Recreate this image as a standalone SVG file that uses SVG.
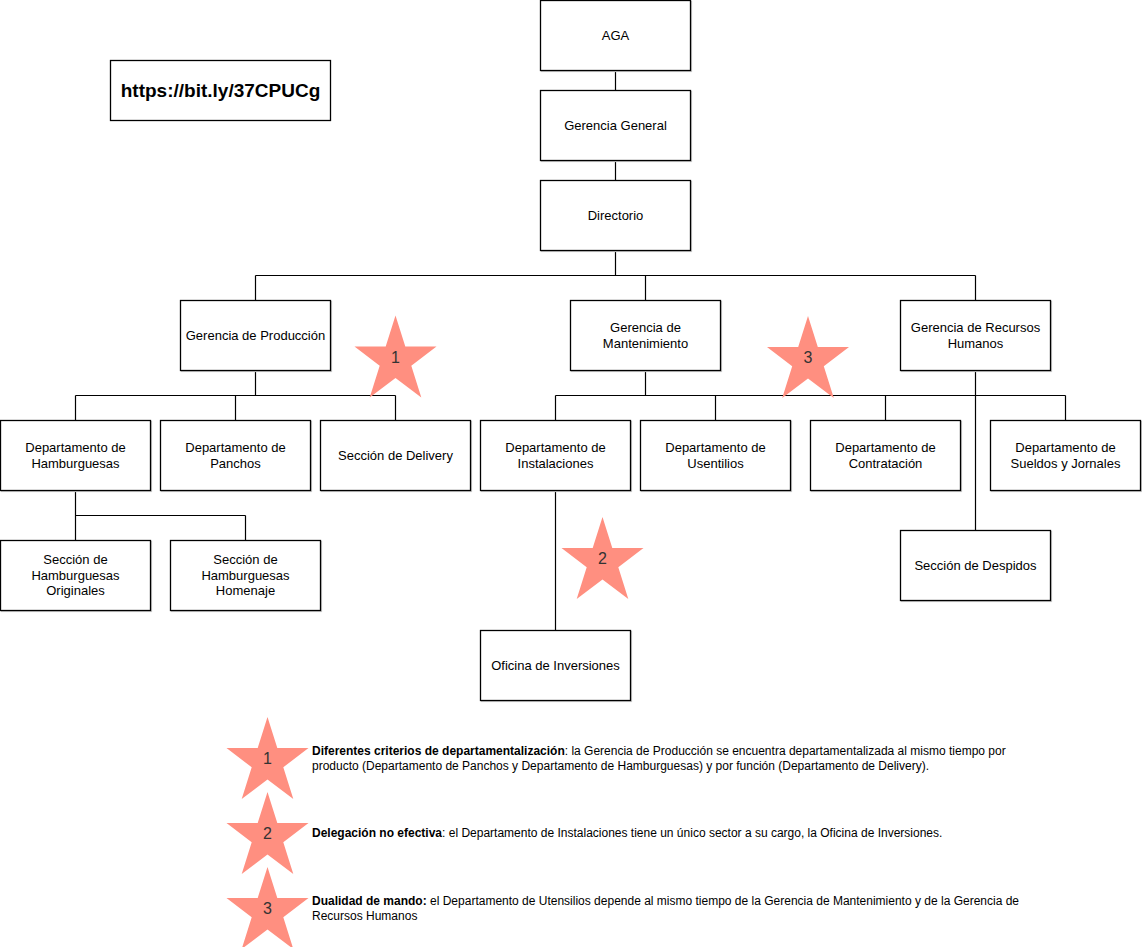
<svg xmlns="http://www.w3.org/2000/svg" xmlns:xlink="http://www.w3.org/1999/xlink" width="1142" height="947" viewBox="0 0 1142 947">
<style>
.box{fill:#fff;stroke:#000;stroke-width:1.3}
.sh{fill:none;stroke:#c8c8c8;stroke-width:1.2}
.t{font-family:"Liberation Sans",Arial,sans-serif;font-size:13px;fill:#000;text-anchor:middle}
.c{fill:none;stroke:#000;stroke-width:1.2}
.star{fill:#ff8f80}
.sn{font-family:"Liberation Sans",Arial,sans-serif;font-size:16px;fill:#333;text-anchor:middle}
.lg{font-family:"Liberation Sans",Arial,sans-serif;font-size:12px;fill:#000}
</style>
<defs>
<polygon id="starShape" class="star" points="0,0 9.8,31 41,31 15.8,50.3 25.8,82 0,62.5 -25.8,82 -15.8,50.3 -41,31 -9.8,31"/>
</defs>
<rect width="1142" height="947" fill="#fff"/>
<g id="connectors">
<path class="c" d="M615.5 70.5V90.5M615.5 160.5V180.5M615.5 250.5V275.5M255.5 275.5H975.5M255.5 275.5V300.5M645.5 275.5V300.5M975.5 275.5V300.5"/>
<path class="c" d="M255.5 370.5V395.5M75.5 395.5H395.5M75.5 395.5V420.5M235.5 395.5V420.5M395.5 395.5V420.5"/>
<path class="c" d="M645.5 370.5V395.5M555.5 395.5H1065.5M555.5 395.5V420.5M715.5 395.5V420.5M885.5 395.5V420.5M1065.5 395.5V420.5M975.5 370.5V530.5"/>
<path class="c" d="M75.5 490.5V515.5M75.5 515.5H245.5M75.5 515.5V540.5M245.5 515.5V540.5M555.5 490.5V630.5"/>
</g>
<g id="url"><rect class="box" x="110.5" y="60.5" width="220" height="60"/><text x="220.5" y="96.5" font-family="Liberation Sans,Arial,sans-serif" font-size="19px" font-weight="bold" text-anchor="middle">https://bit.ly/37CPUCg</text></g>
<g id="aga"><rect class="sh" x="541.5" y="1.5" width="150" height="70"/><rect class="box" x="540.5" y="0.5" width="150" height="70"/><text class="t" x="615.5" y="40">AGA</text></g>
<g id="gerencia-general"><rect class="sh" x="541.5" y="91.5" width="150" height="70"/><rect class="box" x="540.5" y="90.5" width="150" height="70"/><text class="t" x="615.5" y="130">Gerencia General</text></g>
<g id="directorio"><rect class="sh" x="541.5" y="181.5" width="150" height="70"/><rect class="box" x="540.5" y="180.5" width="150" height="70"/><text class="t" x="615.5" y="220">Directorio</text></g>
<g id="g-produccion"><rect class="sh" x="181.5" y="301.5" width="150" height="70"/><rect class="box" x="180.5" y="300.5" width="150" height="70"/><text class="t" x="255.5" y="340">Gerencia de Producción</text></g>
<g id="g-mantenimiento"><rect class="sh" x="571.5" y="301.5" width="150" height="70"/><rect class="box" x="570.5" y="300.5" width="150" height="70"/><text class="t" x="645.5" y="332">Gerencia de</text><text class="t" x="645.5" y="348">Mantenimiento</text></g>
<g id="g-rrhh"><rect class="sh" x="901.5" y="301.5" width="150" height="70"/><rect class="box" x="900.5" y="300.5" width="150" height="70"/><text class="t" x="975.5" y="332">Gerencia de Recursos</text><text class="t" x="975.5" y="348">Humanos</text></g>
<g id="d-hamburguesas"><rect class="sh" x="1.5" y="421.5" width="150" height="70"/><rect class="box" x="0.5" y="420.5" width="150" height="70"/><text class="t" x="75.5" y="452">Departamento de</text><text class="t" x="75.5" y="468">Hamburguesas</text></g>
<g id="d-panchos"><rect class="sh" x="161.5" y="421.5" width="150" height="70"/><rect class="box" x="160.5" y="420.5" width="150" height="70"/><text class="t" x="235.5" y="452">Departamento de</text><text class="t" x="235.5" y="468">Panchos</text></g>
<g id="s-delivery"><rect class="sh" x="321.5" y="421.5" width="150" height="70"/><rect class="box" x="320.5" y="420.5" width="150" height="70"/><text class="t" x="395.5" y="460">Sección de Delivery</text></g>
<g id="d-instalaciones"><rect class="sh" x="481.5" y="421.5" width="150" height="70"/><rect class="box" x="480.5" y="420.5" width="150" height="70"/><text class="t" x="555.5" y="452">Departamento de</text><text class="t" x="555.5" y="468">Instalaciones</text></g>
<g id="d-usentilios"><rect class="sh" x="641.5" y="421.5" width="150" height="70"/><rect class="box" x="640.5" y="420.5" width="150" height="70"/><text class="t" x="715.5" y="452">Departamento de</text><text class="t" x="715.5" y="468">Usentilios</text></g>
<g id="d-contratacion"><rect class="sh" x="811.5" y="421.5" width="150" height="70"/><rect class="box" x="810.5" y="420.5" width="150" height="70"/><text class="t" x="885.5" y="452">Departamento de</text><text class="t" x="885.5" y="468">Contratación</text></g>
<g id="d-sueldos"><rect class="sh" x="991.5" y="421.5" width="150" height="70"/><rect class="box" x="990.5" y="420.5" width="150" height="70"/><text class="t" x="1065.5" y="452">Departamento de</text><text class="t" x="1065.5" y="468">Sueldos y Jornales</text></g>
<g id="s-originales"><rect class="sh" x="1.5" y="541.5" width="150" height="70"/><rect class="box" x="0.5" y="540.5" width="150" height="70"/><text class="t" x="75.5" y="564">Sección de</text><text class="t" x="75.5" y="580">Hamburguesas</text><text class="t" x="75.5" y="595">Originales</text></g>
<g id="s-homenaje"><rect class="sh" x="171.5" y="541.5" width="150" height="70"/><rect class="box" x="170.5" y="540.5" width="150" height="70"/><text class="t" x="245.5" y="564">Sección de</text><text class="t" x="245.5" y="580">Hamburguesas</text><text class="t" x="245.5" y="595">Homenaje</text></g>
<g id="s-despidos"><rect class="sh" x="901.5" y="531.5" width="150" height="70"/><rect class="box" x="900.5" y="530.5" width="150" height="70"/><text class="t" x="975.5" y="570">Sección de Despidos</text></g>
<g id="o-inversiones"><rect class="sh" x="481.5" y="631.5" width="150" height="70"/><rect class="box" x="480.5" y="630.5" width="150" height="70"/><text class="t" x="555.5" y="670">Oficina de Inversiones</text></g>
<g id="star1"><use xlink:href="#starShape" x="395.5" y="315.5"/><text class="sn" x="395.5" y="363">1</text></g>
<g id="star2"><use xlink:href="#starShape" x="602.5" y="517"/><text class="sn" x="602.5" y="564">2</text></g>
<g id="star3"><use xlink:href="#starShape" x="808" y="316"/><text class="sn" x="808" y="363">3</text></g>
<g id="legend1"><use xlink:href="#starShape" x="267.5" y="717"/><text class="sn" x="267.5" y="764">1</text>
<text class="lg" x="312" y="755"><tspan font-weight="bold">Diferentes criterios de departamentalización</tspan>: la Gerencia de Producción se encuentra departamentalizada al mismo tiempo por</text>
<text class="lg" x="312" y="770">producto (Departamento de Panchos y Departamento de Hamburguesas) y por función (Departamento de Delivery).</text></g>
<g id="legend2"><use xlink:href="#starShape" x="267.5" y="792"/><text class="sn" x="267.5" y="839">2</text>
<text class="lg" x="312" y="837"><tspan font-weight="bold">Delegación no efectiva</tspan>: el Departamento de Instalaciones tiene un único sector a su cargo, la Oficina de Inversiones.</text></g>
<g id="legend3"><use xlink:href="#starShape" x="267.5" y="867"/><text class="sn" x="267.5" y="914">3</text>
<text class="lg" x="312" y="905"><tspan font-weight="bold">Dualidad de mando:</tspan> el Departamento de Utensilios depende al mismo tiempo de la Gerencia de Mantenimiento y de la Gerencia de</text>
<text class="lg" x="312" y="920">Recursos Humanos</text></g>
</svg>
